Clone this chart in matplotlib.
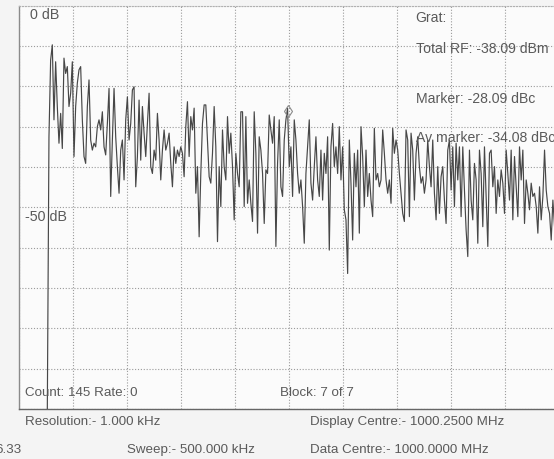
import numpy as np
import matplotlib
matplotlib.use("Agg")
import matplotlib.pyplot as plt

# ---------------- data ----------------
F_START_KHZ = 26.2      # first bin, kHz from left edge of display
BIN_KHZ = 1.545         # bin spacing, kHz
SPAN_KHZ = 500.0        # sweep
DB_TOP, DB_BOTTOM = 0, -100

level_db = [
    # 26 - 111 kHz
    -101, -32.5, -13.5, -9.7, -28.3, -13.9, -25.0, -34.1, -26.7, -35.4,
    -13.0, -16.8, -15.1, -25.0, -21.7, -13.9, -37.4, -25.0, -19.2, -15.9,
    -15.1, -28.3, -37.4, -39.1, -25.0, -18.4, -33.3, -35.8, -34.1, -35.0,
    -30.0, -28.3, -30.8, -26.3, -35.0, -37.0, -29.2, -20.5, -47.3, -33.3,
    -20.5, -32.5, -39.9, -46.5, -35.8, -33.3, -43.2, -28.3, -22.6, -33.3,
    -29.2, -20.9, -20.1, -44.9, -37.4, -23.4,
    # strip 2
    -38.3, -25.0, -31.6, -37.4, -29.2, -21.7, -39.9, -41.6, -35.8, -38.3,
    -26.7, -33.3, -43.2, -35.8, -30.8, -35.8, -34.1, -31.6, -39.1, -44.9,
    -35.0, -39.1, -35.8, -37.4, -35.0, -36.6, -42.4, -30.0, -23.8, -37.4,
    -27.5, -30.8, -25.4, -46.5, -39.9, -57.3, -41.6, -29.2, -24.6, -24.6,
    -33.3, -42.4, -44.0, -36.6, -25.0, -35.0, -58.5, -39.9, -49.8, -30.8,
    -39.9, -43.2, -27.5, -36.6, -31.6, -39.9, -53.1, -36.6, -41.6,
    # strip 3
    -44.9, -26.3, -26.3, -49.8, -27.5, -49.0, -43.2, -49.0, -53.5, -26.3,
    -36.6, -56.4, -32.5, -35.8, -41.6, -54.0, -40.7, -41.6, -27.1, -30.8,
    -34.1, -27.5, -59.7, -39.1, -28.3, -44.9, -47.3, -33.3, -28.3, -25.4,
    -39.9, -35.0, -47.3, -28.3, -33.3, -41.6, -46.5, -43.2, -49.8, -58.9,
    -41.6, -35.0, -28.3, -44.0, -48.2, -39.9, -32.5, -43.2, -47.3, -35.8,
    -48.2, -36.6, -41.6, -32.5, -60.6, -35.0, -29.2, -39.9, -35.0, -41.6,
    -30.0,
    # strip 4
    -43.2, -35.0, -50.6, -53.1, -66.4, -33.3, -44.0, -58.1, -36.6, -44.9,
    -35.8, -56.4, -30.0, -37.4, -49.8, -35.8, -47.3, -41.6, -48.2, -52.3,
    -30.4, -43.2, -41.6, -44.9, -43.2, -30.8, -36.6, -43.2, -46.5, -43.2,
    -49.0, -30.4, -36.6, -33.3, -35.8, -41.6, -46.5, -51.5, -53.5, -30.8,
    -33.3, -52.3, -31.6, -35.8, -48.2, -36.6, -32.5, -39.9, -44.0, -42.4,
    -46.5, -43.2, -33.3, -39.9, -44.9, -33.3, -46.5, -53.1, -39.9, -51.5,
    # strip 5
    -42.4, -39.9, -48.2, -54.0, -35.8, -33.3, -45.7, -35.0, -49.8, -34.1,
    -43.2, -35.0, -52.3, -35.0, -45.7, -55.6, -62.2, -35.8, -48.2, -53.1,
    -39.1, -43.2, -58.9, -35.8, -41.6, -54.8, -35.0, -47.3, -59.7, -36.6,
    -35.8, -44.9, -39.9, -51.5, -43.2, -47.3, -40.7, -44.0, -51.5, -35.8,
    -41.6, -48.2, -35.8, -53.1, -37.4, -44.9, -52.3, -35.0, -43.2, -35.8,
    -54.0, -43.2, -46.5, -50.6, -44.0, -47.3, -46.5, -49.8, -56.4, -44.9,
    -53.1, -47.3, -35.8, -45.7, -49.8, -51.5, -58.1, -48.2, -54.8,
]

MARKER_KHZ = 248.7

label_top = "0 dB"
label_mid = "-50 dB"
info_lines = ["Grat:", "Total RF: -38.09 dBm", "Marker: -28.09 dBc",
              "Av marker: -34.08 dBc"]
status_left = "Count: 145 Rate: 0"
status_mid = "Block: 7 of 7"
footer_row1 = ["Resolution:- 1.000 kHz", "Display Centre:- 1000.2500 MHz"]
footer_row2 = ["6.33", "Sweep:- 500.000 kHz", "Data Centre:- 1000.0000 MHz"]

# ---------------- figure ----------------
W, H = 554, 459
DPI = 100
fig = plt.figure(figsize=(W / DPI, H / DPI), dpi=DPI, facecolor="#f4f4f4")

left_px, right_px, top_px, bottom_px = 19, 559, 5.7, 409
ax = fig.add_axes([left_px / W, 1 - bottom_px / H,
                   (right_px - left_px) / W, (bottom_px - top_px) / H])
ax.set_facecolor("#fbfbfb")

ax.set_xlim(0, SPAN_KHZ)
ax.set_ylim(DB_BOTTOM, DB_TOP)
ax.set_xticks(np.arange(0, SPAN_KHZ + 1, 50))
ax.set_yticks(np.arange(DB_BOTTOM, DB_TOP + 1, 10))
ax.tick_params(length=0, labelbottom=False, labelleft=False)
ax.grid(True, color="#9a9a9a", linestyle=(0, (1, 1.6)), linewidth=0.8)
ax.set_axisbelow(True)
ax.spines["right"].set_visible(False)
ax.spines["top"].set_color("#b0b0b0")
ax.spines["top"].set_linestyle((0, (1, 1.6)))
ax.spines["top"].set_linewidth(0.8)
ax.spines["left"].set_color("#8a8a8a")
ax.spines["left"].set_linewidth(1.0)
ax.spines["bottom"].set_color("#666666")
ax.spines["bottom"].set_linewidth(1.0)

freq = F_START_KHZ + BIN_KHZ * np.arange(len(level_db))
lev = np.array(level_db)
ax.plot(freq, lev, color="#474747", linewidth=0.85, clip_on=True, zorder=3)

mi = int(np.argmin(np.abs(freq - MARKER_KHZ)))
ax.plot(freq[mi], lev[mi] - 0.6, marker="d", markersize=6, markerfacecolor="none",
        markeredgecolor="#8a8a8a", markeredgewidth=0.8, zorder=4)

FONT = ["Liberation Sans", "DejaVu Sans"]
TC = "#5a5a5a"

def ftext(x, y, s, fs=10.2, **kw):
    fig.text(x / W, 1 - y / H, s, ha="left", va="center", fontsize=fs,
             color=TC, family=FONT, **kw)

ftext(30, 15, label_top, fs=10.3, zorder=2)
ftext(25, 217, label_mid, fs=10.3, zorder=2)
for s, y in zip(info_lines, [18, 49, 99, 138]):
    ftext(415.5, y, s, fs=10.1, zorder=2)
BFS = 9.6
ftext(25, 393, status_left, fs=BFS)
ftext(280, 393, status_mid, fs=BFS)
ftext(25, 422, footer_row1[0], fs=BFS)
ftext(310, 422, footer_row1[1], fs=BFS)
ftext(-5, 450, footer_row2[0], fs=BFS)
ftext(127, 450, footer_row2[1], fs=BFS)
ftext(310, 450, footer_row2[2], fs=BFS)

fig.savefig("out.png", dpi=DPI, facecolor=fig.get_facecolor())
